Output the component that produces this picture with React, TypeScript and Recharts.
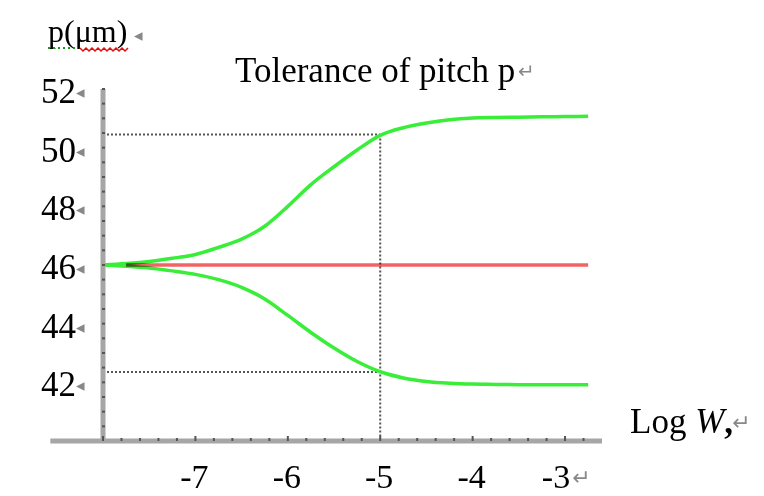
import React from "react";
import { LineChart, Line, XAxis, YAxis, ReferenceLine } from "recharts";

// log W values (x) and pitch p in um
const logW = [-8, -7.75, -7.5, -7.25, -7, -6.75, -6.5, -6.25, -6, -5.75, -5.5, -5.25, -5, -4.75, -4.5, -4.25, -4, -3.75, -3.5, -3.25, -3, -2.75];
const upperP = [46.0, 46.05, 46.12, 46.23, 46.36, 46.6, 46.88, 47.32, 48.0, 48.74, 49.35, 49.92, 50.42, 50.68, 50.84, 50.95, 51.01, 51.03, 51.04, 51.05, 51.06, 51.07];
const lowerP = [46.0, 45.96, 45.9, 45.8, 45.68, 45.5, 45.24, 44.84, 44.28, 43.7, 43.17, 42.71, 42.36, 42.15, 42.03, 41.97, 41.94, 41.93, 41.92, 41.92, 41.92, 41.92];
const nominalP = [null, 46, 46, 46, 46, 46, 46, 46, 46, 46, 46, 46, 46, 46, 46, 46, 46, 46, 46, 46, 46, 46];

const xLabels = [-7, -6, -5, -4, -3];
const yLabels = [42, 44, 46, 48, 50, 52];
const xMinor = Array.from({ length: 27 }, (_, i) => Math.round((-8 + i * 0.2) * 10) / 10);
const yMinor = Array.from({ length: 24 }, (_, i) => 40.5 + i * 0.5);

// dotted guide at log W = -5
const markX = -5;
const markUpper = 50.45;
const markLower = 42.35;

const data = logW.map((x, i) => ({
  x,
  upper: upperP[i],
  lower: lowerP[i],
  nominal: nominalP[i],
}));

const serif = "'Liberation Serif', 'Times New Roman', serif";
const mark = "'DejaVu Sans', sans-serif";

const XTick = (props: any) => {
  const { x, y, payload } = props;
  const v = payload.value;
  const major = Number.isInteger(v);
  const shown = xLabels.includes(v);
  return (
    <g>
      <rect x={x - 1} y={y - (major ? 5 : 3)} width={2} height={major ? 5 : 3} fill="#555" />
      {shown && v !== -3 && (
        <text x={x - 1} y={y + 47} textAnchor="middle" fontFamily={serif} fontSize={34} fill="#000">
          {String(v)}
        </text>
      )}
      {v === -3 && (
        <>
          <text x={x - 9} y={y + 47} textAnchor="middle" fontFamily={serif} fontSize={34} fill="#000">
            -3
          </text>
          <text x={x + 7} y={y + 44} fontFamily={mark} fontSize={22} fill="#888">
            ↵
          </text>
        </>
      )}
    </g>
  );
};

const YTick = (props: any) => {
  const { x, y, payload } = props;
  const v = payload.value;
  const shown = yLabels.includes(v);
  return (
    <g>
      <rect x={x - 1} y={y - 1} width={3} height={2} fill="#555" />
      {shown && (
        <>
          <text x={x - 27} y={y + 14} textAnchor="end" fontFamily={serif} fontSize={35} fill="#000">
            {String(v)}
          </text>
          <text x={x - 27} y={y + 9} fontFamily={mark} fontSize={17} fill="#888">
            ◂
          </text>
        </>
      )}
    </g>
  );
};

export default function App() {
  return (
    <div style={{ position: "absolute", left: 0, top: 0, width: 764, height: 496, background: "#fff" }}>
      <style>{`.nominal-line { mix-blend-mode: multiply; }`}</style>
      <LineChart width={764} height={496} data={data} margin={{ top: 89, right: 162, left: 0, bottom: 0 }}>
        <XAxis
          dataKey="x"
          type="number"
          domain={[-8, -2.6]}
          ticks={xMinor}
          interval={0}
          tickSize={0}
          tickMargin={0}
          height={55}
          axisLine={{ stroke: "#a6a6a6", strokeWidth: 5 }}
          tickLine={false}
          tick={<XTick />}
          allowDataOverflow
        />
        <YAxis
          type="number"
          domain={[40, 52]}
          ticks={yMinor}
          interval={0}
          tickSize={0}
          tickMargin={0}
          width={103}
          axisLine={{ stroke: "#a6a6a6", strokeWidth: 5 }}
          tickLine={false}
          tick={<YTick />}
          allowDataOverflow
        />
        <ReferenceLine
          segment={[{ x: -8.57, y: 40 }, { x: -8, y: 40 }]}
          stroke="#a6a6a6"
          strokeWidth={5}
          ifOverflow="visible"
        />
        <ReferenceLine
          segment={[{ x: -8, y: markUpper }, { x: markX, y: markUpper }]}
          stroke="#555"
          strokeWidth={2}
          strokeDasharray="2 2"
        />
        <ReferenceLine
          segment={[{ x: -8, y: markLower }, { x: markX, y: markLower }]}
          stroke="#555"
          strokeWidth={2}
          strokeDasharray="2 2"
        />
        <ReferenceLine
          segment={[{ x: markX, y: markUpper }, { x: markX, y: 40 }]}
          stroke="#555"
          strokeWidth={2}
          strokeDasharray="2 2"
        />
        <Line type="monotone" dataKey="upper" stroke="#38ee38" strokeWidth={3.5} dot={false} isAnimationActive={false} />
        <Line type="monotone" dataKey="lower" stroke="#38ee38" strokeWidth={3.5} dot={false} isAnimationActive={false} />
        <Line
          type="monotone"
          dataKey="nominal"
          className="nominal-line"
          stroke="#f26464"
          strokeWidth={3.5}
          dot={false}
          isAnimationActive={false}
          connectNulls
        />
      </LineChart>
      <svg width={764} height={496} style={{ position: "absolute", left: 0, top: 0, pointerEvents: "none" }}>
        <text x={48} y={42} fontFamily={serif} fontSize={32} fill="#000">
          p(μm)
        </text>
        <text x={134} y={41} fontFamily={mark} fontSize={17} fill="#888">
          ◂
        </text>
        <line x1={48} y1={48} x2={76} y2={48} stroke="#1a9a1a" strokeWidth={2} strokeDasharray="2 3" />
        <polyline
          points="80,48 83,51 86,48 89,51 92,48 95,51 98,48 101,51 104,48 107,51 110,48 113,51 116,48 119,51 122,48 125,51 128,48"
          fill="none"
          stroke="#e01010"
          strokeWidth={1.5}
        />
        <text x={235} y={82} fontFamily={serif} fontSize={35} fill="#000">
          Tolerance of pitch p
        </text>
        <text x={518} y={78} fontFamily={mark} fontSize={20} fill="#888">
          ↵
        </text>
        <text x={630} y={433} fontFamily={serif} fontSize={35} fill="#000">
          Log <tspan fontStyle="italic">W</tspan>
          <tspan fontWeight="bold">,</tspan>
        </text>
        <text x={732} y={430} fontFamily={mark} fontSize={22} fill="#888">
          ↵
        </text>
      </svg>
    </div>
  );
}
